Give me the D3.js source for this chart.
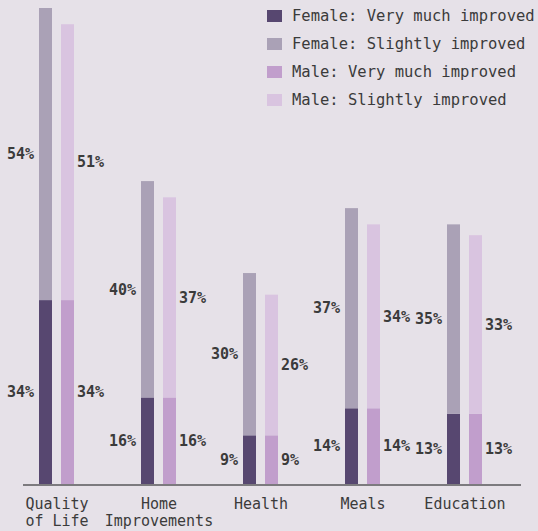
<!DOCTYPE html>
<html>
<head>
<meta charset="utf-8">
<script src="https://cdn.jsdelivr.net/npm/d3@7/dist/d3.min.js"></script>
<style>
  html, body { margin: 0; padding: 0; background: #e6e1e8; }
  svg { display: block; }
  text { font-family: "DejaVu Sans Mono", "Liberation Mono", monospace; fill: #3b3b3b; }
</style>
</head>
<body>
<div id="chart"></div>
<script>
// Survey: share of respondents reporting improvement, by area and gender
const categories = ["Quality of Life", "Home Improvements", "Health", "Meals", "Education"];
const categoryLines = [["Quality", "of Life"], ["Home", "Improvements"], ["Health"], ["Meals"], ["Education"]];
const femaleVeryMuch = [34, 16, 9, 14, 13];
const femaleSlightly = [54, 40, 30, 37, 35];
const maleVeryMuch = [34, 16, 9, 14, 13];
const maleSlightly = [51, 37, 26, 34, 33];
const legendLabels = [
  "Female: Very much improved",
  "Female: Slightly improved",
  "Male: Very much improved",
  "Male: Slightly improved"
];
const colors = ["#574770", "#aaa1b6", "#c19ecc", "#d9c4e0"];

const width = 538, height = 531;
const svg = d3.select("#chart").append("svg")
  .attr("width", width).attr("height", height);

const x = d3.scalePoint().domain(categories).range([57, 465]);
const y = d3.scaleLinear().domain([0, 88]).range([484, 8]);
const barW = 13;

// Build stacked segments for each gender
const series = [];
categories.forEach((c, i) => {
  series.push({ cat: c, side: "f", lo: 0, hi: femaleVeryMuch[i], v: femaleVeryMuch[i], color: colors[0] });
  series.push({ cat: c, side: "f", lo: femaleVeryMuch[i], hi: femaleVeryMuch[i] + femaleSlightly[i], v: femaleSlightly[i], color: colors[1] });
  series.push({ cat: c, side: "m", lo: 0, hi: maleVeryMuch[i], v: maleVeryMuch[i], color: colors[2] });
  series.push({ cat: c, side: "m", lo: maleVeryMuch[i], hi: maleVeryMuch[i] + maleSlightly[i], v: maleSlightly[i], color: colors[3] });
});

const barX = d => d.side === "f" ? x(d.cat) - 18 : x(d.cat) + 4;

svg.append("g").selectAll("rect").data(series).join("rect")
  .attr("x", barX)
  .attr("y", d => y(d.hi))
  .attr("width", barW)
  .attr("height", d => y(d.lo) - y(d.hi))
  .attr("fill", d => d.color);

// Value labels: female on the left of its bar, male on the right
svg.append("g").selectAll("text").data(series).join("text")
  .attr("x", d => d.side === "f" ? barX(d) - 5 : barX(d) + barW + 3)
  .attr("y", d => y((d.lo + d.hi) / 2))
  .attr("dy", "0.35em")
  .attr("text-anchor", d => d.side === "f" ? "end" : "start")
  .attr("font-size", 15)
  .attr("font-weight", "bold")
  .text(d => d.v + "%");

// Baseline
svg.append("line")
  .attr("x1", 23).attr("x2", 521)
  .attr("y1", y(0) + 1).attr("y2", y(0) + 1)
  .attr("stroke", "#7c7a7e").attr("stroke-width", 2);

// Category labels
const catG = svg.append("g").selectAll("text").data(categories).join("text")
  .attr("x", d => x(d))
  .attr("y", 509)
  .attr("text-anchor", "middle")
  .attr("font-size", 15);
catG.selectAll("tspan").data((d, i) => categoryLines[i]).join("tspan")
  .attr("x", function() { return d3.select(this.parentNode).attr("x"); })
  .attr("dy", (d, i) => i === 0 ? 0 : 17)
  .text(d => d);

// Legend
const legend = svg.append("g").selectAll("g").data(legendLabels).join("g")
  .attr("transform", (d, i) => `translate(267, ${16 + i * 28})`);
legend.append("rect")
  .attr("x", 0).attr("y", -6).attr("width", 15).attr("height", 12)
  .attr("fill", (d, i) => colors[i]);
legend.append("text")
  .attr("x", 25).attr("y", 0).attr("dy", "0.35em")
  .attr("font-size", 15.5)
  .text(d => d);
</script>
</body>
</html>
